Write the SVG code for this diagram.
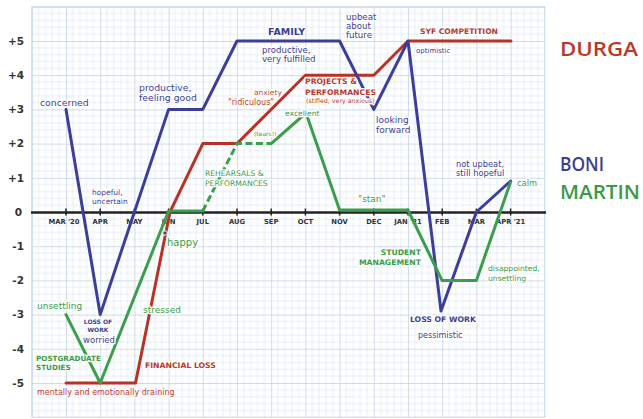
<svg xmlns="http://www.w3.org/2000/svg" width="643" height="419" viewBox="0 0 643 419">
<defs>
<pattern id="grid" x="31.8" y="6.8" width="34.2" height="34.2" patternUnits="userSpaceOnUse">
<path d="M6.84 0V34.2M13.68 0V34.2M20.52 0V34.2M27.36 0V34.2M0 6.84H34.2M0 13.68H34.2M0 20.52H34.2M0 27.36H34.2" stroke="#e1ebf6" stroke-width="0.8" fill="none"/>
<path d="M0.4 0V34.2M0 0.4H34.2" stroke="#c3d6ea" stroke-width="0.9" fill="none"/>
</pattern>
<style>
text{font-family:"DejaVu Sans","Liberation Sans",sans-serif;}
.t{paint-order:stroke;stroke:#fff;stroke-width:2.6;stroke-linejoin:round;}
.b{fill:#3a3d96;}
.r{fill:#b8382a;}
.g{fill:#3a9a48;}
.bd{font-weight:bold;}
.ax{font-weight:bold;fill:#333;font-size:10.5px;text-anchor:end;}
.mo{font-weight:bold;fill:#333;font-size:6.8px;text-anchor:middle;}
.big{font-family:"Open Sans","DejaVu Sans",sans-serif;font-weight:600;font-size:20px;}
.ln{fill:none;stroke-width:3;stroke-linejoin:round;stroke-linecap:round;}
.lb{stroke:#3b3e9a;}
.lr{stroke:#b83225;}
.lg{stroke:#3c9e4c;}
.dash{stroke-dasharray:7 3.5;stroke-linecap:butt;}
</style>
</defs>
<rect width="643" height="419" fill="#fff"/>
<g id="grid-area">
<rect x="31.8" y="6.8" width="513" height="410.4" fill="url(#grid)" stroke="#c3d6ea" stroke-width="1"/>
</g>
<g id="axes">
<line x1="31" y1="212.5" x2="546" y2="212.5" stroke="#222" stroke-width="2.5"/>
<path d="M66 208.5v7M100.2 208.5v7M134.4 208.5v7M168.6 208.5v7M202.8 208.5v7M237 208.5v7M271.2 208.5v7M305.4 208.5v7M339.6 208.5v7M373.8 208.5v7M408 208.5v7M442.2 208.5v7M476.4 208.5v7M510.6 208.5v7" stroke="#222" stroke-width="1.5"/>
<text class="ax" x="24" y="44.8">+5</text>
<text class="ax" x="24" y="79">+4</text>
<text class="ax" x="24" y="113.2">+3</text>
<text class="ax" x="24" y="147.4">+2</text>
<text class="ax" x="24" y="181.6">+1</text>
<text class="ax" x="22" y="215.8">0</text>
<text class="ax" x="24" y="250">-1</text>
<text class="ax" x="24" y="284.2">-2</text>
<text class="ax" x="24" y="318.4">-3</text>
<text class="ax" x="24" y="352.6">-4</text>
<text class="ax" x="24" y="386.8">-5</text>
<text class="mo" x="64" y="224">MAR '20</text>
<text class="mo" x="100.2" y="224">APR</text>
<text class="mo" x="134.4" y="224">MAY</text>
<text class="mo" x="168.6" y="224">JUN</text>
<text class="mo" x="202.8" y="224">JUL</text>
<text class="mo" x="237" y="224">AUG</text>
<text class="mo" x="271.2" y="224">SEP</text>
<text class="mo" x="305.4" y="224">OCT</text>
<text class="mo" x="339.6" y="224">NOV</text>
<text class="mo" x="373.8" y="224">DEC</text>
<text class="mo" x="408" y="224">JAN '21</text>
<text class="mo" x="442.2" y="224">FEB</text>
<text class="mo" x="476.4" y="224">MAR</text>
<text class="mo" x="510.6" y="224">APR '21</text>
</g>
<g id="connectors">
<path id="durga-line" class="ln lr" d="M66 383L135.5 383L170 212L202.8 143.6L237 143.6L305.4 75.2L373.8 75.2L408 41L511 41"/>
<path id="boni-line" class="ln lb" d="M66 109.4L100.2 314.6L168.6 109.4L202.8 109.4L237 41L339.6 41L373.8 109.4L408 41L441 311L476.4 212L510.6 181"/>
<path id="martin-line-1" class="ln lg" d="M66 314.6L100.2 383L168.6 211L202.8 211"/>
<path id="martin-line-2" class="ln lg dash" d="M202.8 211L237 143.6L271.2 143.6"/>
<path id="martin-line-3" class="ln lg" d="M271.2 143.6L306 113L339.6 210L408 210L442 280.4L476.4 280.4L510.6 182"/>
<circle cx="165" cy="233" r="2.2" fill="#444" stroke="#fff" stroke-width="1"/>
</g>
<g id="boni">
<text class="t b" x="40" y="106" font-size="9.3">concerned</text>
<text class="t b" x="139" y="91" font-size="9.3">productive,</text>
<text class="t b" x="139" y="101" font-size="9.3">feeling good</text>
<text class="t b" x="92" y="195" font-size="7.5">hopeful,</text>
<text class="t b" x="92" y="204" font-size="7.5">uncertain</text>
<text class="t b bd" x="268" y="35" font-size="9.5">FAMILY</text>
<text class="t b" x="262" y="53" font-size="8.6">productive,</text>
<text class="t b" x="262" y="62" font-size="8.6">very fulfilled</text>
<text class="t b" x="346" y="20" font-size="8.6">upbeat</text>
<text class="t b" x="346" y="29" font-size="8.6">about</text>
<text class="t b" x="346" y="38" font-size="8.6">future</text>
<text class="t b" x="376" y="123" font-size="9">looking</text>
<text class="t b" x="376" y="133" font-size="9">forward</text>
<text class="t b" x="416" y="52.5" font-size="7">optimistic</text>
<text class="t b" x="456" y="167" font-size="8.3">not upbeat,</text>
<text class="t b" x="456" y="176" font-size="8.3">still hopeful</text>
<text class="t b bd" x="98" y="324" font-size="6" text-anchor="middle">LOSS OF</text>
<text class="t b bd" x="98" y="332" font-size="6" text-anchor="middle">WORK</text>
<text class="t b" x="99" y="343" font-size="8.5" text-anchor="middle">worried</text>
<text class="t b bd" x="410" y="322" font-size="7.7">LOSS OF WORK</text>
<text class="t b" x="418" y="338" font-size="8">pessimistic</text>
<text class="b big" x="560" y="171" textLength="44" lengthAdjust="spacingAndGlyphs">BONI</text>
</g>
<g id="durga">
<text class="t r bd" x="420" y="33.5" font-size="7.6">SYF COMPETITION</text>
<text class="t r bd" x="305" y="84" font-size="7.7">PROJECTS &amp;</text>
<text class="t r bd" x="305" y="94.5" font-size="7.7">PERFORMANCES</text>
<text class="t r" x="306" y="102.5" font-size="6.3">(stifled, very anxious)</text>
<text class="t r" x="254" y="95" font-size="7.5" style="fill:#c4553a">anxiety</text>
<text class="t r" x="228" y="105" font-size="8">"ridiculous"</text>
<text class="t r bd" x="145" y="368" font-size="7.7">FINANCIAL LOSS</text>
<text class="t r" x="37" y="395" font-size="8">mentally and emotionally draining</text>
<text class="r big" x="560" y="56" textLength="78" lengthAdjust="spacingAndGlyphs">DURGA</text>
</g>
<g id="martin">
<text class="t g" x="37" y="309" font-size="9">unsettling</text>
<text class="t g bd" x="36" y="361" font-size="7.2">POSTGRADUATE</text>
<text class="t g bd" x="36" y="370" font-size="7.2">STUDIES</text>
<text class="t g" x="143" y="313" font-size="9">stressed</text>
<text class="t g" x="167" y="246" font-size="10">happy</text>
<text class="t g" x="205" y="176" font-size="7.6">REHEARSALS &amp;</text>
<text class="t g" x="205" y="186" font-size="7.6">PERFORMANCES</text>
<text class="t g" x="254" y="135.5" font-size="6">(tears!)</text>
<text class="t g" x="285" y="115.5" font-size="7.6">excellent</text>
<text class="t g" x="358" y="202" font-size="9">"stan"</text>
<text class="t g bd" x="421" y="255" font-size="7.7" text-anchor="end">STUDENT</text>
<text class="t g bd" x="421" y="265" font-size="7.7" text-anchor="end">MANAGEMENT</text>
<text class="t g" x="488" y="271" font-size="7.6">disappointed,</text>
<text class="t g" x="488" y="280.5" font-size="7.6">unsettling</text>
<text class="t g" x="517" y="186" font-size="8.3">calm</text>
<text class="g big" x="560" y="199" textLength="80" lengthAdjust="spacingAndGlyphs">MARTIN</text>
</g>
</svg>
